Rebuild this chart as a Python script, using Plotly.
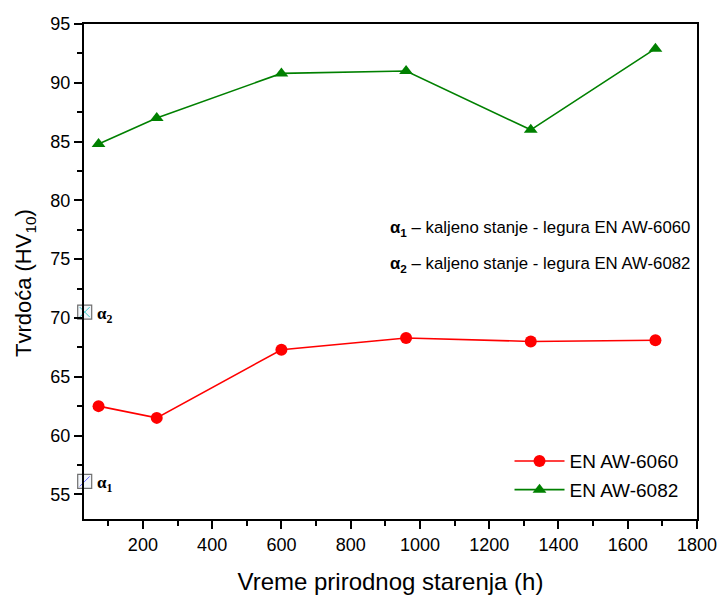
import plotly.graph_objects as go

# Natural ageing time (h) and Vickers hardness HV10
vreme = [72, 240, 600, 960, 1320, 1680]
tvrdoca_6060 = [62.5, 61.5, 67.3, 68.3, 68.0, 68.1]
tvrdoca_6082 = [84.8, 87.0, 90.8, 91.0, 86.0, 92.9]

# Quenched-state reference values
alfa_x = [32, 32]
alfa_y = [56.1, 70.5]
alfa_labels = ["α<sub>1</sub>", "α<sub>2</sub>"]

FONT = "Liberation Sans, Arial, sans-serif"

fig = go.Figure()

fig.add_trace(go.Scatter(
    x=vreme, y=tvrdoca_6060, name="EN AW-6060", mode="lines+markers",
    legendgroup="a",
    line=dict(color="#ff0000", width=1.6),
    marker=dict(symbol="circle", size=12, color="#ff0000"),
))
fig.add_trace(go.Scatter(
    x=vreme, y=tvrdoca_6082, name="EN AW-6082", mode="lines+markers",
    legendgroup="b",
    line=dict(color="#008000", width=1.6),
    marker=dict(symbol="triangle-up", size=12, color="#008000"),
))

# Reference squares (open, with inner hatch / cross)
fig.add_trace(go.Scatter(
    x=alfa_x, y=alfa_y, mode="markers", showlegend=False, hoverinfo="skip",
    cliponaxis=False,
    marker=dict(symbol="square", size=14, color="rgba(220,230,240,0.35)",
                line=dict(color="#707070", width=1.2)),
))
fig.add_trace(go.Scatter(
    x=alfa_x[:1], y=alfa_y[:1], mode="markers", showlegend=False, hoverinfo="skip",
    cliponaxis=False,
    marker=dict(symbol="line-ne", size=10, line=dict(color="#6a6aff", width=1)),
))
fig.add_trace(go.Scatter(
    x=alfa_x[1:], y=alfa_y[1:], mode="markers", showlegend=False, hoverinfo="skip",
    cliponaxis=False,
    marker=dict(symbol="x-thin", size=10, line=dict(color="#3cc8c8", width=1)),
))

for xv, yv, lab in zip(alfa_x, alfa_y, alfa_labels):
    fig.add_annotation(x=xv, y=yv, text="<b>" + lab + "</b>", showarrow=False,
                       xanchor="left", yanchor="middle", xshift=10, yshift=-3,
                       font=dict(family="Liberation Serif, serif", size=17, color="#000"))

fig.add_annotation(x=0.496, y=0.586, xref="paper", yref="paper", xanchor="left",
                   yanchor="middle", showarrow=False,
                   text="<b>α<sub>1</sub></b> – kaljeno stanje - legura EN AW-6060",
                   font=dict(family=FONT, size=16.8, color="#000"))
fig.add_annotation(x=0.496, y=0.515, xref="paper", yref="paper", xanchor="left",
                   yanchor="middle", showarrow=False,
                   text="<b>α<sub>2</sub></b> – kaljeno stanje - legura EN AW-6082",
                   font=dict(family=FONT, size=16.8, color="#000"))

# Y-axis title
fig.add_annotation(x=-0.096, y=0.477, xref="paper", yref="paper",
                   xanchor="center", yanchor="middle", textangle=-90, showarrow=False,
                   text="Tvrdoća (HV<sub>10</sub>)",
                   font=dict(family=FONT, size=22, color="#000"))

axis_common = dict(
    showgrid=False, zeroline=False, showline=True, linecolor="#000", linewidth=2,
    mirror=True, ticks="outside", ticklen=8, tickwidth=1.5, tickcolor="#000",
    tickfont=dict(family=FONT, size=18, color="#000"), automargin=False,
)

fig.update_layout(
    width=719, height=600,
    paper_bgcolor="white", plot_bgcolor="white",
    margin=dict(l=84, r=22, t=24, b=81),
    font=dict(family=FONT, color="#000"),
    xaxis=dict(
        range=[30, 1800], tick0=0, dtick=200,
        minor=dict(ticks="outside", ticklen=5, tickwidth=1.5, tickcolor="#000", dtick=100),
        title=dict(text="Vreme prirodnog starenja (h)", font=dict(family=FONT, size=24),
                   standoff=20),
        **axis_common,
    ),
    yaxis=dict(
        range=[52.9, 95], tick0=0, dtick=5,
        minor=dict(ticks="outside", ticklen=5, tickwidth=1.5, tickcolor="#000", dtick=2.5),
        **axis_common,
    ),
    legend=dict(
        x=0.978, y=0.02, xanchor="right", yanchor="bottom",
        bgcolor="rgba(0,0,0,0)", borderwidth=0,
        font=dict(family=FONT, size=19, color="#000"),
        itemwidth=50, tracegroupgap=1, traceorder="grouped",
    ),
)

fig.write_html("out.html")
